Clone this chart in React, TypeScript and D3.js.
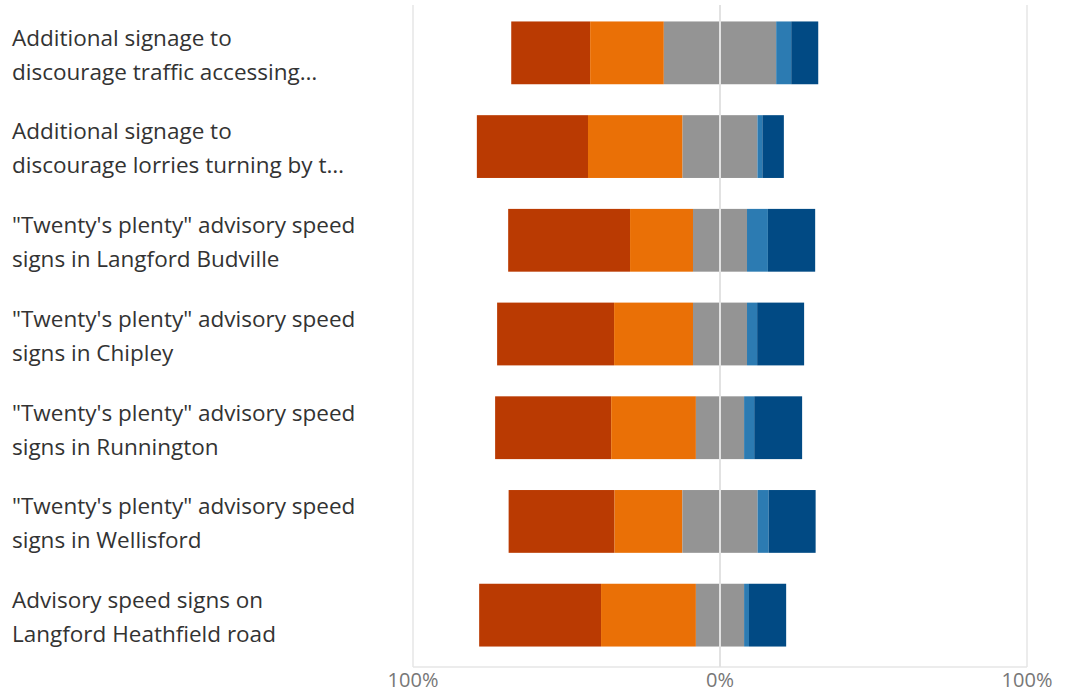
import React from 'react';
import * as d3 from 'd3';

const categories = [
  'Additional signage to\ndiscourage traffic accessing…',
  'Additional signage to\ndiscourage lorries turning by t…',
  '"Twenty\'s plenty" advisory speed\nsigns in Langford Budville',
  '"Twenty\'s plenty" advisory speed\nsigns in Chipley',
  '"Twenty\'s plenty" advisory speed\nsigns in Runnington',
  '"Twenty\'s plenty" advisory speed\nsigns in Wellisford',
  'Advisory speed signs on\nLangford Heathfield road',
];

// percentages per response level
const stronglyDisagree = [25.7, 36.2, 39.7, 38.1, 37.8, 34.5, 39.7];
const disagree = [24.0, 30.8, 20.5, 25.7, 27.6, 22.1, 30.9];
const neutral = [36.6, 24.4, 17.6, 17.6, 15.7, 24.5, 15.7];
const agree = [4.9, 1.6, 6.8, 3.3, 3.3, 3.6, 1.6];
const stronglyAgree = [8.8, 7.0, 15.4, 15.3, 15.6, 15.3, 12.1];

const colors = ['#BA3A02', '#EA7006', '#949494', '#2C7BB2', '#014A84'];
const ticks = [-100, 0, 100];

const W = 1066;
const H = 693;
const font = '"Open Sans", "Noto Sans", sans-serif';

export default function App() {
  const x = d3.scaleLinear().domain([-100, 100]).range([413, 1027]);
  const y = d3.scaleBand<number>()
    .domain(d3.range(categories.length))
    .range([6, 662])
    .paddingInner(0.33)
    .paddingOuter(0.165);

  const rows = categories.map((c, i) => {
    const vals = [stronglyDisagree[i], disagree[i], neutral[i], agree[i], stronglyAgree[i]];
    let start = -(vals[0] + vals[1] + vals[2] / 2);
    const segs = vals.map((v, k) => {
      const s = { x0: start, x1: start + v, color: colors[k] };
      start += v;
      return s;
    });
    return { label: c, segs, i };
  });

  return (
    <svg width={W} height={H} style={{ position: 'absolute', left: 0, top: 0, background: '#fff' }} fontFamily={font}>
      {/* grid */}
      {[-100, 100].map(t => (
        <line key={t} x1={x(t)} x2={x(t)} y1={5} y2={667} stroke="#e6e6e6" strokeWidth={1.5} />
      ))}
      <line x1={x(-100)} x2={x(100)} y1={667} y2={667} stroke="#e6e6e6" strokeWidth={1.5} />

      {rows.map(r => (
        <g key={r.i}>
          {r.segs.map((s, k) => (
            <rect key={k} x={x(s.x0)} width={x(s.x1) - x(s.x0)} y={y(r.i)} height={y.bandwidth()} fill={s.color} />
          ))}
          {r.label.split('\n').map((ln, j, arr) => (
            <text key={j} x={12} y={(y(r.i) as number) + y.bandwidth() / 2 + 2 + (j - (arr.length - 1) / 2) * 34}
              dy="0.35em" fontSize={22.5} fill="#333">{ln}</text>
          ))}
        </g>
      ))}

      <line x1={x(0)} x2={x(0)} y1={5} y2={667} stroke="#e2e2e2" strokeWidth={2} />

      {ticks.map(t => (
        <text key={t} x={x(t)} y={680} dy="0.35em" textAnchor="middle" fontSize={20} fill="#777">
          {Math.abs(t)}%
        </text>
      ))}
    </svg>
  );
}
